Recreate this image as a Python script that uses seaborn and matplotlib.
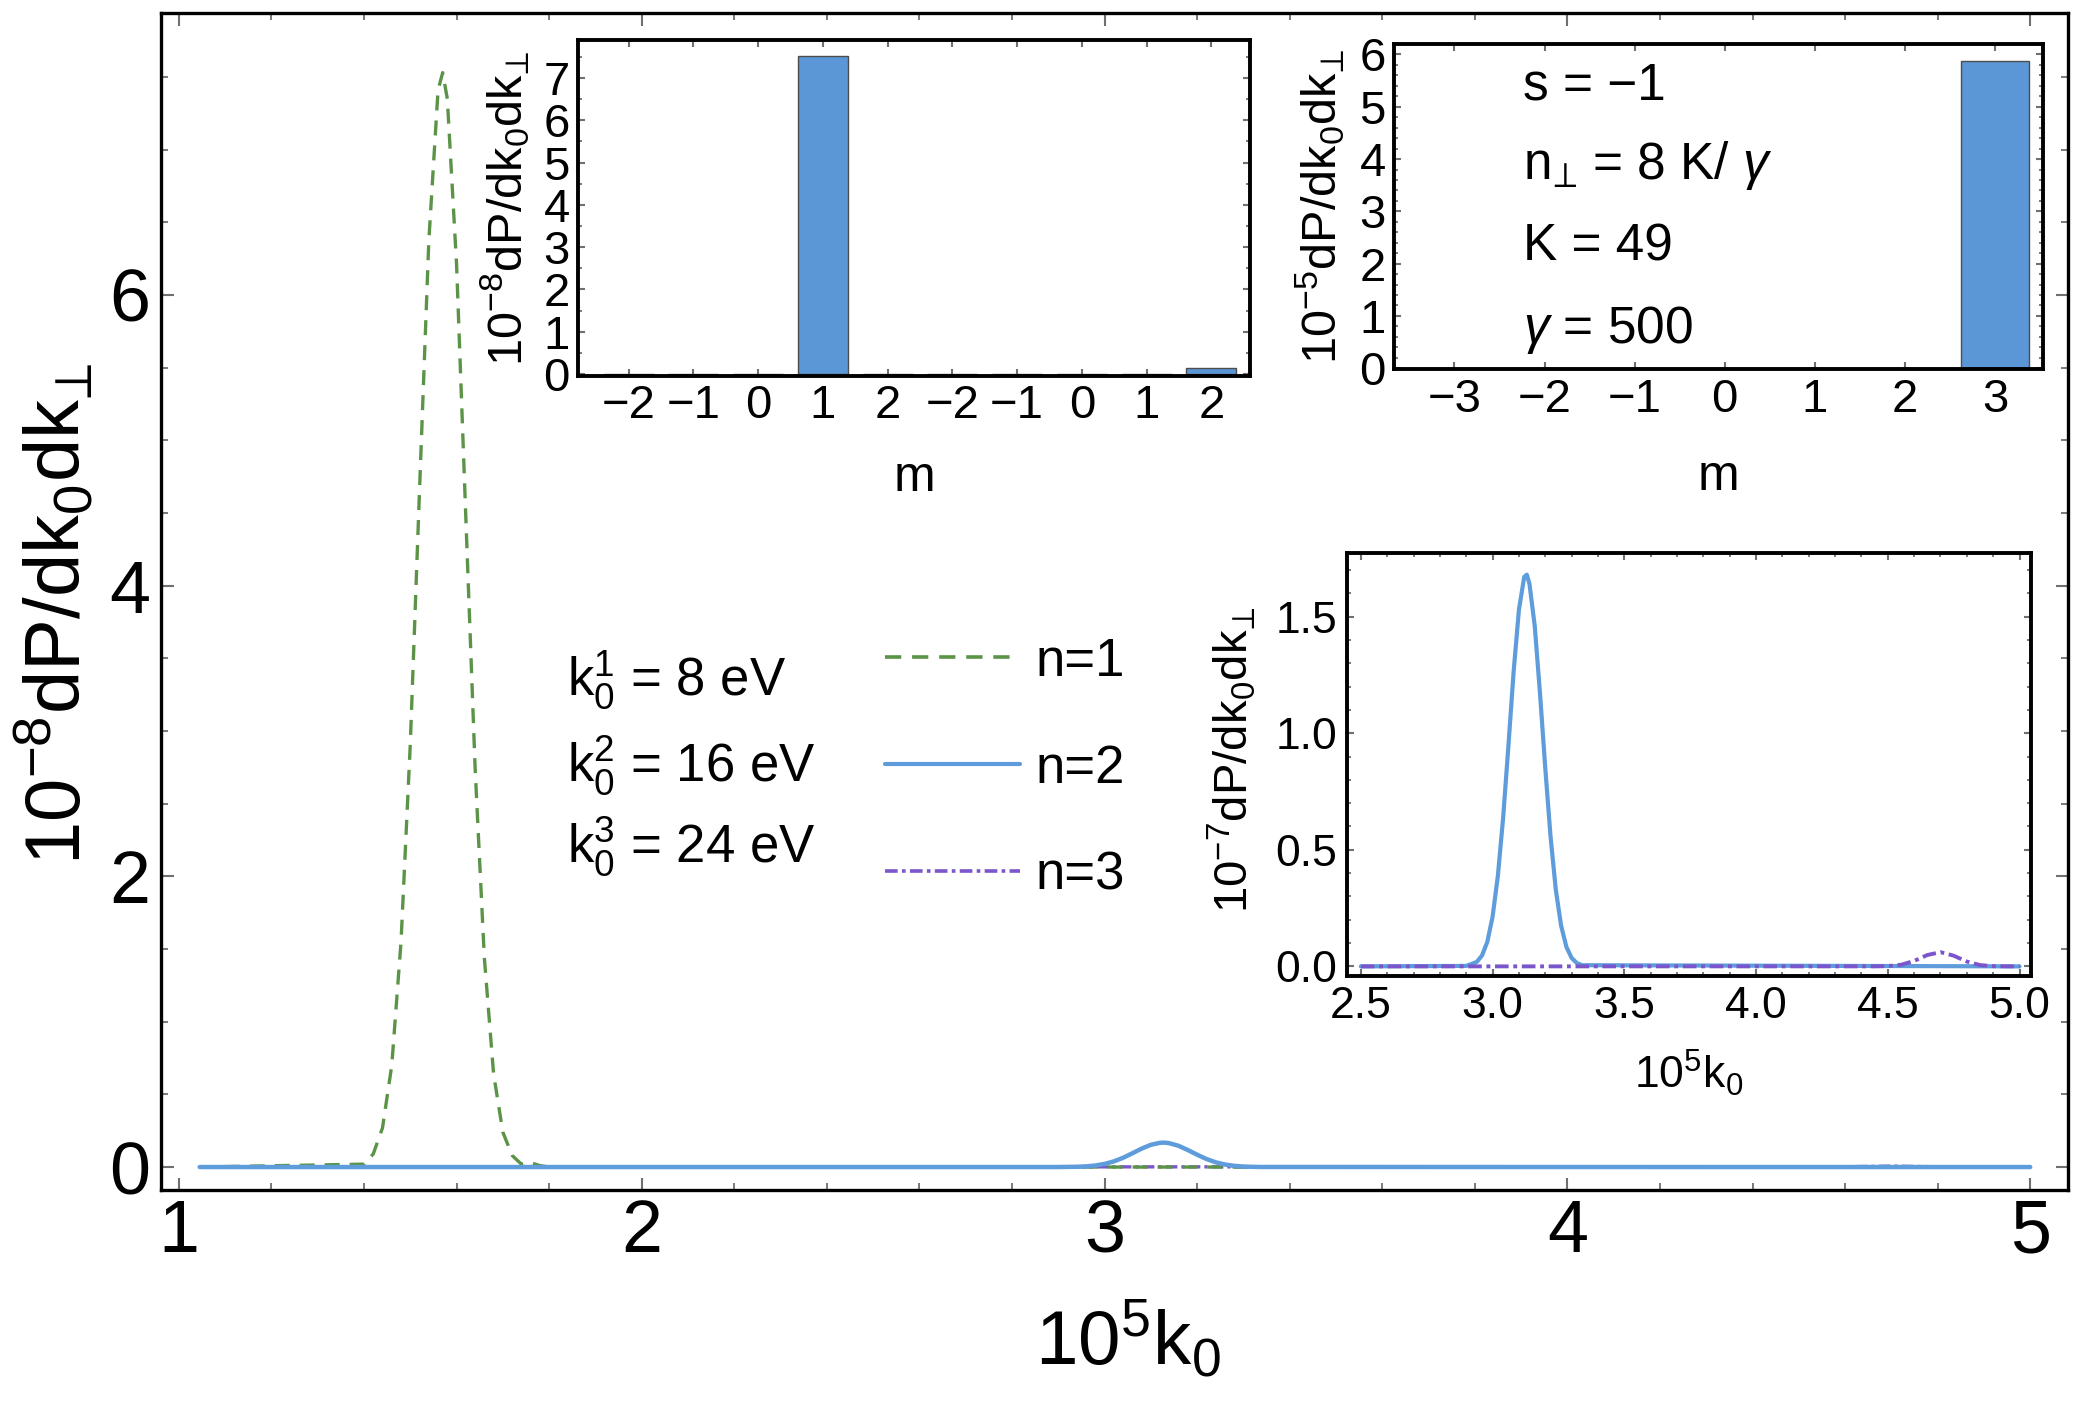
import matplotlib.pyplot as plt
from matplotlib.ticker import MultipleLocator
from matplotlib.lines import Line2D
import seaborn as sns

# ---- data ----
# main panel: x = 10^5 k0, y in units of 1e-8
k_n1 = [1.045, 1.40, 1.42, 1.44, 1.46, 1.48, 1.50, 1.52, 1.54, 1.56, 1.57, 1.58,
        1.60, 1.62, 1.64, 1.66, 1.68, 1.70, 1.72, 1.74, 1.76, 1.78, 1.80, 5.0]
p_n1 = [0.0, 0.02, 0.09, 0.27, 0.70, 1.55, 2.91, 4.66, 6.37, 7.41, 7.53, 7.35,
        6.21, 4.47, 2.75, 1.44, 0.64, 0.24, 0.08, 0.02, 0.03, 0.01, 0.0, 0.0]

k_n2 = [1.045, 2.90, 2.94, 2.96, 2.98, 3.00, 3.02, 3.04, 3.06, 3.08, 3.10, 3.12, 3.13,
        3.14, 3.16, 3.18, 3.20, 3.22, 3.24, 3.26, 3.28, 3.30, 3.32, 3.34, 5.0]
p_n2 = [0.0, 0.0002, 0.0019, 0.0047, 0.0105, 0.0213, 0.0388, 0.0637, 0.0945, 0.1266, 0.153,
        0.167, 0.168, 0.164, 0.146, 0.117, 0.085, 0.0556, 0.0328, 0.0175, 0.0084, 0.0036,
        0.0014, 0.0005, 0.0]

k_n3 = [1.045, 4.60, 4.70, 4.80, 5.0]
p_n3 = [0.0, 0.0023, 0.0061, 0.0021, 0.0]

# zoomed inset: y in units of 1e-7
kz_n2 = [2.5, 2.90, 2.94, 2.96, 2.98, 3.00, 3.02, 3.04, 3.06, 3.08, 3.10, 3.12, 3.13,
         3.14, 3.16, 3.18, 3.20, 3.22, 3.24, 3.26, 3.28, 3.30, 3.32, 3.34, 5.0]
pz_n2 = [0.0, 0.002, 0.019, 0.047, 0.105, 0.213, 0.388, 0.637, 0.945, 1.266, 1.53,
         1.67, 1.68, 1.64, 1.46, 1.17, 0.85, 0.556, 0.328, 0.175, 0.084, 0.036,
         0.014, 0.005, 0.0]
kz_n3 = [2.5, 4.45, 4.50, 4.55, 4.60, 4.65, 4.70, 4.75, 4.80, 4.85, 4.90, 4.95, 5.0]
pz_n3 = [0.0, 0.0001, 0.0012, 0.0068, 0.0233, 0.0487, 0.061, 0.0458, 0.0207, 0.0056,
         0.0009, 0.0001, 0.0]

# bar insets
m_labels_a = ["\u22122", "\u22121", "0", "1", "2"] * 2
bars_a = [0, 0, 0, 7.52, 0, 0, 0, 0, 0, 0.14]       # 1e-8
m_labels_b = ["\u22123", "\u22122", "\u22121", "0", "1", "2", "3"]
bars_b = [0, 0, 0, 0, 0, 0, 5.88]                     # 1e-5

green = "#5b9446"
blue = "#5e9cdc"
purple = "#7a55cc"
bar_col = "#5b96d6"
dashdot = (0, (3.5, 1.2, 1, 1.2))
dashed = (0, (4.5, 3))

sns.set_theme(style="ticks")
plt.rcParams["font.family"] = ["Liberation Sans", "DejaVu Sans"]
plt.rcParams["mathtext.fontset"] = "custom"
plt.rcParams["mathtext.rm"] = "Liberation Sans"
plt.rcParams["mathtext.it"] = "Liberation Sans:italic"
plt.rcParams["mathtext.bf"] = "Liberation Sans:bold"
plt.rcParams["mathtext.fallback"] = "stixsans"
for key in ["text.color", "axes.labelcolor", "xtick.labelcolor", "ytick.labelcolor"]:
    plt.rcParams[key] = "black"

ylab = r"$10^{%s}\mathrm{dP/dk_0dk}_{\mathrm{⊥}}$"

fig = plt.figure(figsize=(20.84, 14.01), dpi=100)

def frame(ax, lw, size, major, minor, pad):
    for s in ax.spines.values():
        s.set_visible(True)
        s.set_color("black")
        s.set_linewidth(lw)
    ax.tick_params(which="both", direction="in", top=True, right=True,
                   color="#707070", labelcolor="black", labelsize=size, pad=pad)
    ax.tick_params(which="major", length=major, width=1.5)
    ax.tick_params(which="minor", length=minor, width=1.3)
    ax.set_facecolor("white")

# ---- main panel ----
ax = fig.add_axes([0.0773, 0.1506, 0.9151, 0.8401])
sns.lineplot(x=k_n3, y=p_n3, ax=ax, color=purple, lw=2.4, linestyle=dashdot)
sns.lineplot(x=k_n1, y=p_n1, ax=ax, color=green, lw=2.4, linestyle=dashed)
sns.lineplot(x=k_n2, y=p_n2, ax=ax, color=blue, lw=3.2)
ax.set_xlim(0.9616, 5.082)
ax.set_ylim(-0.158, 7.94)
ax.xaxis.set_major_locator(MultipleLocator(1))
ax.xaxis.set_minor_locator(MultipleLocator(0.2))
ax.yaxis.set_major_locator(MultipleLocator(2))
ax.yaxis.set_minor_locator(MultipleLocator(0.5))
frame(ax, 2.4, 53, 9, 5, 8)
ax.tick_params(axis="x", pad=6)
ax.set_xlabel(r"$10^5\mathrm{k}_0$", fontsize=55, va="top")
ax.set_ylabel(ylab % "-8", fontsize=56)
ax.xaxis.set_label_coords(0.507, -0.092)
ax.yaxis.set_label_coords(-0.034, 0.49)

for yy, txt in zip([0.4199, 0.3477, 0.2783],
                   [r"$\mathrm{k}_0^1$ = 8 eV", r"$\mathrm{k}_0^2$ = 16 eV", r"$\mathrm{k}_0^3$ = 24 eV"]):
    ax.text(0.2129, yy, txt, transform=ax.transAxes, fontsize=38, va="baseline", ha="left")

handles = [Line2D([], [], color=green, lw=2.6, linestyle=dashed),
           Line2D([], [], color=blue, lw=3.0),
           Line2D([], [], color=purple, lw=2.6, linestyle=dashdot)]
ax.legend(handles, ["n=1", "n=2", "n=3"], loc="center left", bbox_to_anchor=(0.3797, 0.358),
          frameon=False, fontsize=38, handlelength=2.55, handletextpad=0.3,
          labelspacing=1.08, borderpad=0, borderaxespad=0)

# ---- inset: bars over m, two groups ----
a1 = fig.add_axes([0.2774, 0.7316, 0.3225, 0.2398])
sns.barplot(x=list(range(len(bars_a))), y=bars_a, ax=a1, color=bar_col, width=0.77,
            edgecolor="#4d4d4d", linewidth=1, errorbar=None, saturation=1)
a1.set_xlim(-0.78, 9.6)
a1.set_ylim(-0.05, 7.9)
a1.set_xticks(range(len(bars_a)))
a1.set_xticklabels(m_labels_a)
a1.yaxis.set_major_locator(MultipleLocator(1))
a1.yaxis.set_minor_locator(MultipleLocator(0.5))
frame(a1, 2.8, 34, 5, 3, 6)
a1.set_xlabel("m", fontsize=36, va="top")
a1.set_ylabel(ylab % "-8", fontsize=35)
a1.xaxis.set_label_coords(0.5, -0.235)
a1.yaxis.set_label_coords(-0.068, 0.5)

# ---- inset: bars over m, s = -1 ----
a2 = fig.add_axes([0.6689, 0.7364, 0.3114, 0.2322])
sns.barplot(x=list(range(len(bars_b))), y=bars_b, ax=a2, color=bar_col, width=0.76,
            edgecolor="#4d4d4d", linewidth=1, errorbar=None, saturation=1)
a2.set_xlim(-0.67, 6.53)
a2.set_ylim(-0.02, 6.2)
a2.set_xticks(range(len(bars_b)))
a2.set_xticklabels(m_labels_b)
a2.yaxis.set_major_locator(MultipleLocator(1))
a2.yaxis.set_minor_locator(MultipleLocator(0.2))
frame(a2, 2.8, 34, 5, 3, 6)
a2.set_xlabel("m", fontsize=36, va="top")
a2.set_ylabel(ylab % "-5", fontsize=35)
a2.xaxis.set_label_coords(0.5, -0.26)
a2.yaxis.set_label_coords(-0.072, 0.5)
for yy, txt in zip([0.828, 0.584, 0.334, 0.082],
                   ["s = \u22121", r"$\mathrm{n}_{\mathrm{⊥}}$ = 8 K/ $\gamma$", "K = 49", r"$\gamma$ = 500"]):
    a2.text(0.199, yy, txt, transform=a2.transAxes, fontsize=37, va="baseline", ha="left")

# ---- inset: zoom on n=2, n=3 ----
a3 = fig.add_axes([0.6463, 0.3034, 0.3282, 0.3019])
sns.lineplot(x=kz_n2, y=pz_n2, ax=a3, color=blue, lw=3.0)
sns.lineplot(x=kz_n3, y=pz_n3, ax=a3, color=purple, lw=2.8, linestyle=dashdot)
a3.set_xlim(2.447, 5.043)
a3.set_ylim(-0.041, 1.773)
a3.xaxis.set_major_locator(MultipleLocator(0.5))
a3.xaxis.set_minor_locator(MultipleLocator(0.1))
a3.yaxis.set_major_locator(MultipleLocator(0.5))
a3.yaxis.set_minor_locator(MultipleLocator(0.1))
frame(a3, 2.8, 32, 5, 3, 7)
a3.set_xlabel(r"$10^5\mathrm{k}_0$", fontsize=32, va="top")
a3.set_ylabel(ylab % "-7", fontsize=34)
a3.xaxis.set_label_coords(0.5, -0.17)
a3.yaxis.set_label_coords(-0.13, 0.51)

fig.savefig("out.png", dpi=100)
